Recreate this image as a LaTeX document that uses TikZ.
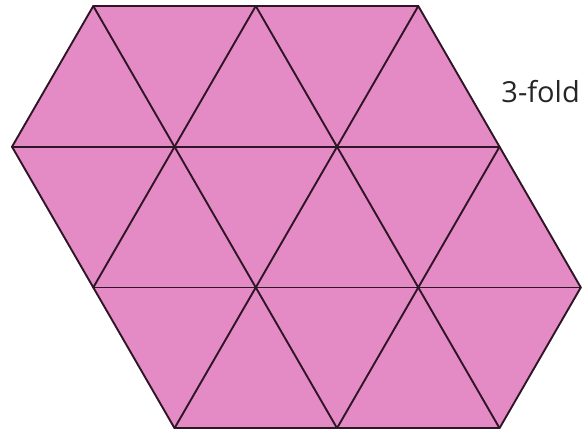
\documentclass[tikz,border=0pt]{standalone}
\usepackage{fontspec}
\setmainfont{Open Sans}
\definecolor{rose}{HTML}{E48AC4}
\definecolor{trait}{HTML}{2E1626}
\begin{document}
\begin{tikzpicture}[x=81.25pt,y=-140.7pt]
    \useasboundingbox (-0.148,-0.043) rectangle (7.015,3.013);
    %%%%%%%%%%%%%%%%%%%%%%%%%%%%%%%%%%%%%% Pavage
    \fill[rose] (1,0)--(5,0)--(7,2)--(6,3)--(2,3)--(0,1)--cycle;

    \tikzstyle{arete}=[-,trait,line width=1.9pt,line cap=round]
    \draw[arete] (1,0)--(5,0);
    \draw[arete] (0,1)--(6,1);
    \draw[arete] (1,2)--(7,2);
    \draw[arete] (2,3)--(6,3);

    \draw[arete] (1,0)--(0,1);
    \draw[arete] (3,0)--(1,2);
    \draw[arete] (5,0)--(2,3);
    \draw[arete] (6,1)--(4,3);
    \draw[arete] (7,2)--(6,3);

    \draw[arete] (0,1)--(2,3);
    \draw[arete] (1,0)--(4,3);
    \draw[arete] (3,0)--(6,3);
    \draw[arete] (5,0)--(7,2);

    %%%%%%%%%%%%%%%%%%%%%%%%%%%%%%%%%%%%%% Texte
    \node[anchor=base east,inner sep=0pt,font=\fontsize{29}{31}\selectfont,text=black!85] (ordre) at (6.99,0.682) {3-fold};
\end{tikzpicture}
\end{document}
